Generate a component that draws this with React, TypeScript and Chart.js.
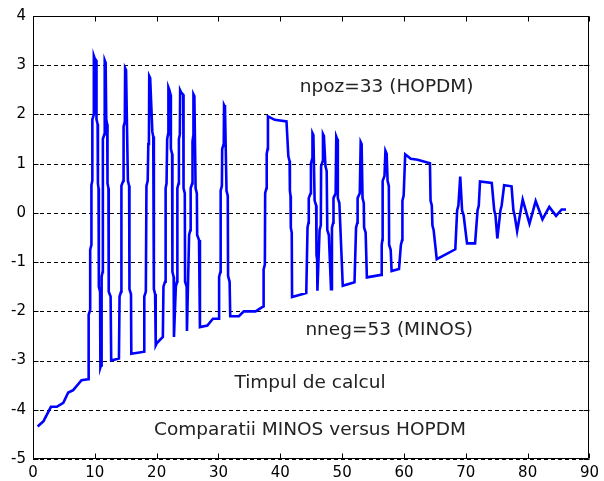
import React, { useEffect, useRef } from "react";
import { Chart, registerables } from "chart.js";

Chart.register(...registerables);

// ---- data ----
const xValues: number[] = [
  0.75, 1.7, 2.9, 3.85, 4.9, 5.7, 6.5, 7.85, 8.9,
  9.0, 9.0, 9.25, 9.25, 9.45, 9.45, 9.6, 9.6, 9.84, 9.84, 9.95,
  10.2, 10.27, 10.45, 10.5, 10.6, 10.65, 10.85, 10.9,
  11.0, 11.1, 11.25, 11.3, 11.55, 11.6, 11.75,
  11.85, 12.0, 12.05, 12.2, 12.25, 12.55, 12.65, 13.9,
  14.0, 14.25, 14.3, 14.6, 14.65, 14.85, 14.9, 15.05,
  15.35, 15.55, 15.6, 15.85, 15.9, 18.0,
  18.0, 18.25, 18.35, 18.55, 18.65, 18.75, 18.8, 18.95,
  19.3, 19.45, 19.55, 19.75, 19.85, 20.0, 21.0,
  21.1, 21.35, 21.4, 21.5, 21.6, 21.7, 21.85, 21.9, 22.05,
  22.25, 22.3, 22.5, 22.55, 22.75, 22.8,
  23.1, 23.3, 23.35, 23.55, 23.6, 23.75, 23.8, 23.95,
  24.3, 24.35, 24.55, 24.6, 24.85, 24.9,
  25.25, 25.45, 25.5, 25.75, 25.8, 25.9, 25.95, 26.1,
  26.3, 26.5, 26.55, 26.85, 27.0, 28.2, 29.1, 30.1,
  30.1, 30.3, 30.35, 30.55, 30.6, 30.85, 30.9, 31.05,
  31.3, 31.5, 31.55, 31.8, 31.9, 33.3, 34.1, 36.0, 37.0,
  37.3, 37.3, 37.5, 37.55, 37.75, 37.8, 37.95, 38.0, 39.1, 41.0,
  41.3, 41.5, 41.55, 41.65, 41.7, 41.85, 41.9, 44.2,
  44.4, 44.55, 44.6, 44.9, 44.95, 45.15, 45.2, 45.35,
  45.55, 45.8, 45.85, 45.95, 46.0,
  46.35, 46.55, 46.6, 46.85, 46.9, 47.05,
  47.3, 47.5, 47.6, 47.85, 48.2,
  48.35, 48.55, 48.6, 48.95, 49.05, 49.2,
  49.3, 49.55, 50.1, 52.0,
  52.25, 52.45, 52.5, 52.85, 53.0, 53.15,
  53.3, 53.5, 53.55, 53.8, 54.0, 56.3,
  56.4, 56.5, 56.55, 56.85, 57.0, 57.2,
  57.35, 57.55, 57.6, 57.85, 58.0, 59.2,
  59.5, 59.7, 59.75, 59.95, 60.2, 61.1, 62.2, 64.2,
  64.3, 64.5, 64.6, 64.8, 65.3, 68.3,
  68.6, 68.8, 69.1,
  69.4, 69.65, 70.2, 71.5,
  71.9, 72.1, 72.3, 74.2,
  74.6, 74.8, 75.1,
  75.6, 75.8, 76.2, 77.4,
  77.7, 77.9, 78.3,
  79.2, 80.3, 81.3, 82.4, 83.5, 84.6, 85.5, 86.2,
];

const yValues: number[] = [
  -4.34, -4.23, -3.94, -3.94, -3.86, -3.65, -3.6, -3.4, -3.38,
  -3.38, -2.07, -1.97, -0.75, -0.65, 0.56, 0.66, 1.9, 2.0, 3.19, 3.15,
  3.1, 1.9, 1.8, 0.6, 0.5, -1.5, -1.6, -3.14,
  -3.1, -1.3, -1.2, 1.5, 1.6, 3.1, 3.05,
  1.9, 1.8, 0.6, 0.5, -1.6, -1.7, -3.0, -2.96,
  -1.7, -1.6, 0.55, 0.65, 1.75, 1.85, 2.94, 2.9,
  0.65, 0.55, -1.55, -1.65, -2.86, -2.82,
  -1.7, -1.6, 0.55, 0.65, 1.4, 1.5, 2.78, 2.74,
  1.65, 1.55, -1.55, -1.65, -2.69, -2.65, -2.52,
  -1.5, -1.4, -0.5, 0.5, 0.6, 1.5, 1.6, 2.55, 2.5,
  2.4, 1.3, 1.2, -1.2, -1.3, -2.52,
  -1.5, -1.4, 0.5, 0.6, 1.5, 1.6, 2.49, 2.45,
  2.4, 0.5, 0.4, -1.4, -1.5, -2.4,
  -0.45, -0.35, 0.5, 0.6, 1.45, 1.55, 2.41, 2.37,
  0.5, 0.4, -0.45, -0.55, -2.32, -2.29, -2.15, -2.15,
  -1.3, -1.2, 0.45, 0.55, 1.3, 1.4, 2.19, 2.15,
  0.45, 0.35, -1.28, -1.4, -2.1, -2.1, -2.0, -2.0, -1.92,
  -1.9, -1.15, -1.05, 0.4, 0.5, 1.2, 1.3, 1.96, 1.89, 1.86,
  1.15, 1.05, 0.45, 0.35, -0.3, -0.4, -1.71, -1.63,
  -0.3, -0.2, 0.3, 0.4, 1.0, 1.1, 1.62, 1.58,
  0.25, 0.15, -0.85, -0.95, -1.58,
  -0.35, -0.25, 0.95, 1.05, 1.6, 1.56,
  0.95, 0.85, -0.35, -0.45, -1.55,
  -0.3, -0.2, 0.3, 0.4, 1.55, 1.5,
  0.3, 0.2, -1.48, -1.41,
  -0.3, -0.2, 0.3, 0.4, 1.44, 1.4,
  0.3, 0.2, -0.3, -0.4, -1.31, -1.26,
  -0.65, -0.55, 0.65, 0.75, 1.26, 1.2,
  0.65, 0.55, -0.65, -0.75, -1.18, -1.14,
  -0.65, -0.55, 0.25, 0.35, 1.19, 1.1, 1.08, 1.01,
  0.25, 0.15, -0.25, -0.35, -0.94, -0.74,
  0.05, 0.15, 0.74,
  0.05, -0.05, -0.62, -0.62,
  0.05, 0.15, 0.64, 0.61,
  0.05, -0.05, -0.52,
  0.05, 0.15, 0.56, 0.54,
  0.05, -0.05, -0.37,
  0.27, -0.22, 0.24, -0.13, 0.12, -0.06, 0.07, 0.07,
];

const xTickValues: number[] = [0, 10, 20, 30, 40, 50, 60, 70, 80, 90];
const yTickValues: number[] = [-5, -4, -3, -2, -1, 0, 1, 2, 3, 4];

const annotationTexts: string[] = [
  "npoz=33 (HOPDM)",
  "nneg=53 (MINOS)",
  "Timpul de calcul",
  "Comparatii MINOS versus HOPDM",
];
const annotationX: number[] = [57.2, 57.6, 44.8, 44.8];
const annotationY: number[] = [2.56, -2.39, -3.46, -4.41];

const FONT = '"DejaVu Sans", "Liberation Sans", Arial, sans-serif';

const framePlugin = {
  id: "matlabFrame",
  beforeDatasetsDraw(chart: any) {
    const { ctx, chartArea: a, scales } = chart;
    ctx.save();
    ctx.strokeStyle = "#000";
    ctx.lineWidth = 1;
    ctx.setLineDash([4, 3]);
    for (const v of yTickValues) {
      const py = Math.round(scales.y.getPixelForValue(v)) + 0.5;
      ctx.beginPath();
      ctx.moveTo(a.left, py);
      ctx.lineTo(a.right, py);
      ctx.stroke();
    }
    ctx.restore();
  },
  afterDraw(chart: any) {
    const { ctx, chartArea: a, scales } = chart;
    ctx.save();
    ctx.strokeStyle = "#000";
    ctx.lineWidth = 1;
    ctx.setLineDash([]);
    const L = Math.round(a.left) + 0.5;
    const R = Math.round(a.right) - 0.5;
    const T = Math.round(a.top) + 0.5;
    const B = Math.round(a.bottom) - 0.5;
    ctx.beginPath();
    ctx.rect(L, T, R - L, B - T);
    ctx.stroke();
    const tl = 5;
    ctx.beginPath();
    for (const v of xTickValues) {
      const px = Math.round(scales.x.getPixelForValue(v)) + 0.5;
      ctx.moveTo(px, B);
      ctx.lineTo(px, B - tl);
      ctx.moveTo(px, T);
      ctx.lineTo(px, T + tl);
    }
    for (const v of yTickValues) {
      const py = Math.round(scales.y.getPixelForValue(v)) + 0.5;
      ctx.moveTo(L, py);
      ctx.lineTo(L + tl, py);
      ctx.moveTo(R, py);
      ctx.lineTo(R - tl, py);
    }
    ctx.stroke();

    ctx.fillStyle = "#222";
    ctx.font = "18.5px " + FONT;
    ctx.textAlign = "center";
    ctx.textBaseline = "middle";
    annotationTexts.forEach((t, i) => {
      const px = scales.x.getPixelForValue(annotationX[i]);
      const py = scales.y.getPixelForValue(annotationY[i]);
      ctx.fillText(t, px, py);
    });
    ctx.restore();
  },
};

export default function App() {
  const ref = useRef<HTMLCanvasElement | null>(null);

  useEffect(() => {
    if (!ref.current) return;
    const points = xValues.map((x, i) => ({ x, y: yValues[i] }));
    const chart = new Chart(ref.current, {
      type: "line",
      data: {
        datasets: [
          {
            data: points,
            borderColor: "#0000ff",
            borderWidth: 2.6,
            pointRadius: 0,
            tension: 0,
            fill: false,
          },
        ],
      },
      options: {
        animation: false,
        responsive: false,
        devicePixelRatio: 1,
        layout: { padding: { left: 0, top: 14, right: 10, bottom: 0 } },
        plugins: {
          legend: { display: false },
          tooltip: { enabled: false },
        },
        scales: {
          x: {
            type: "linear",
            min: 0,
            max: 90,
            afterBuildTicks: (scale: any) => {
              scale.ticks = xTickValues.map((v) => ({ value: v }));
            },
            afterFit: (scale: any) => {
              scale.height = 22;
            },
            grid: { display: false, drawTicks: false },
            border: { display: false },
            ticks: {
              color: "#000",
              padding: 5,
              maxRotation: 0,
              autoSkip: false,
              font: { family: FONT, size: 15 },
            },
          },
          y: {
            type: "linear",
            min: -5,
            max: 4,
            afterBuildTicks: (scale: any) => {
              scale.ticks = yTickValues.map((v) => ({ value: v }));
            },
            afterFit: (scale: any) => {
              scale.width = 33;
            },
            grid: { display: false, drawTicks: false },
            border: { display: false },
            ticks: {
              color: "#000",
              padding: 7,
              autoSkip: false,
              font: { family: FONT, size: 15 },
            },
          },
        },
      },
      plugins: [framePlugin],
    });
    return () => chart.destroy();
  }, []);

  return (
    <div style={{ position: "fixed", left: 0, top: 0, width: 604, height: 481, background: "#fff" }}>
      <canvas ref={ref} width={604} height={481} style={{ display: "block" }} />
    </div>
  );
}
